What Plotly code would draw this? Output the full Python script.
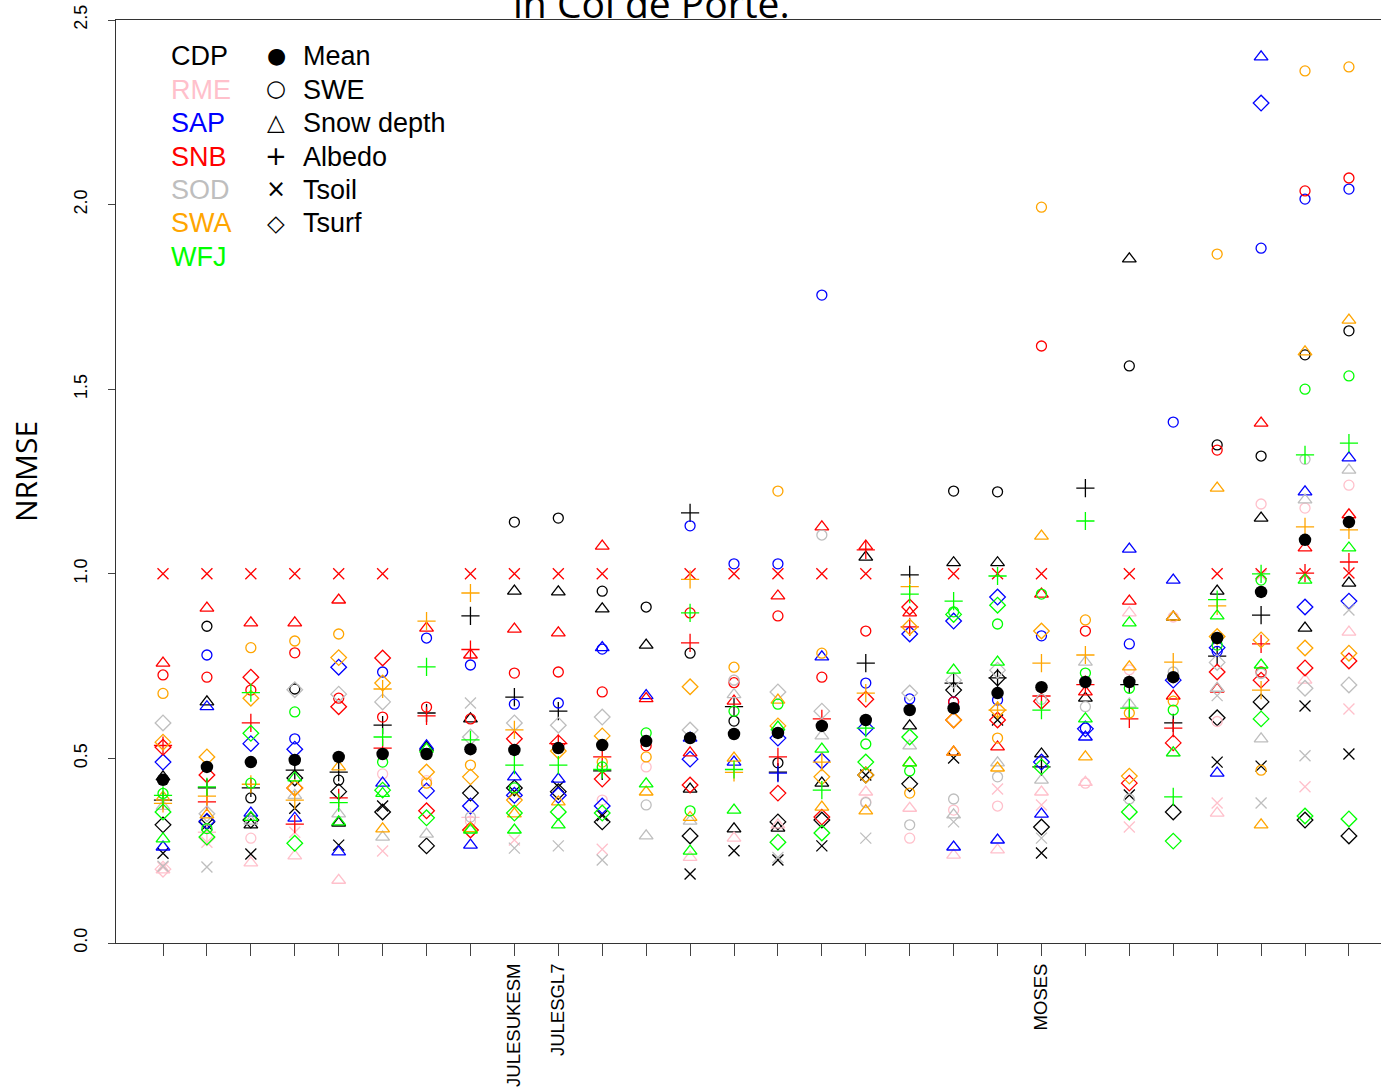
import plotly.graph_objects as go

N = None

# Model positions along the x axis (28 models); only three carry a label
MODEL_POS = list(range(1, 29))
MODEL_LABELS = ["", "", "", "", "", "", "", "", "JULESUKESM", "JULESGL7",
                "", "", "", "", "", "", "", "", "", "", "MOSES",
                "", "", "", "", "", "", ""]

# Multi-variable mean NRMSE per model
MEAN = [0.442, 0.477, 0.49, 0.496, 0.504, 0.512, 0.512, 0.525, 0.523, 0.528,
        0.536, 0.547, 0.555, 0.566, 0.569, 0.588, 0.604, 0.631, 0.636, 0.677,
        0.693, 0.707, 0.707, 0.72, 0.826, 0.951, 1.092, 1.14]

# ---- CDP ----
CDP_SWE = [N, 0.858, 0.393, 0.688, 0.441, N, N, N, 1.14, 1.151, 0.953, 0.91, 0.785, 0.601,
           0.488, N, N, N, 1.224, 1.222, N, N, 1.563, N, 1.349, 1.319, 1.593, 1.658]
CDP_DEPTH = [0.45, 0.653, 0.32, N, 0.325, N, 0.53, 0.607, 0.953, 0.951, 0.905, 0.807, 0.417,
             0.309, 0.311, 0.433, 1.045, 0.588, 1.03, 1.03, 0.512, 0.663, 1.853, 0.883, 0.953,
             1.151, 0.853, 0.975]
CDP_ALBEDO = [0.387, 0.42, 0.42, 0.468, 0.463, 0.59, 0.623, 0.886, 0.666, 0.628, 0.466, N,
              1.165, 0.64, 0.463, N, 0.758, 0.997, 0.704, 0.718, 0.477, 1.232, 0.70, 0.596,
              0.777, 0.888, N, N]
CDP_TSOIL = [0.243, 0.32, 0.241, 0.365, 0.265, 0.371, N, N, 0.41, 0.423, 0.345, N, 0.187, 0.25,
             0.225, 0.263, 0.455, N, 0.501, 0.604, 0.244, N, 0.401, N, 0.49, 0.479, 0.642, 0.512]
CDP_TSURF = [0.32, 0.328, 0.333, 0.447, 0.41, 0.355, 0.263, 0.406, 0.42, 0.41, 0.328, N, 0.29,
             N, 0.328, 0.333, 0.455, 0.431, 0.685, 0.718, 0.314, N, N, 0.355, 0.61, 0.653,
             0.333, 0.29]

# ---- RME ----
RME_SWE = [N, N, 0.284, N, N, 0.458, 0.44, 0.33, N, N, 0.387, 0.477, N, 0.712, N, N, 0.382,
           0.284, 0.36, 0.371, N, 0.433, 0.74, 0.883, 0.60, 1.189, 1.178, 1.24]
RME_DEPTH = [0.198, N, 0.217, 0.236, 0.17, N, N, N, N, N, N, N, 0.232, 0.284, 0.32, N, 0.409,
             0.365, 0.238, 0.252, 0.409, 0.435, 0.894, N, 0.352, N, 0.712, 0.842]
RME_ALBEDO = [N, 0.30, N, N, N, N, N, 0.34, N, N, N, N, N, N, N, N, N, N, N, N, N, N, N, N, N,
              N, N, N]
RME_TSOIL = [0.205, 0.273, N, 0.30, N, 0.249, N, N, 0.279, N, 0.254, N, N, N, N, N, N, N, N,
             0.417, 0.374, N, 0.314, N, 0.379, 0.995, 0.423, 0.634]
RME_TSURF = [0.2, 0.285, N, N, N, N, N, N, N, N, N, N, N, N, N, N, N, N, N, N, N, N, N, N, N,
             N, N, N]

# ---- SAP ----
SAP_SWE = [N, 0.78, N, 0.553, N, 0.734, 0.826, 0.753, 0.647, 0.65, 0.796, N, 1.13, 1.027,
           1.027, 1.755, 0.704, 0.661, 0.653, 0.658, 0.832, 0.582, 0.81, 1.411, 0.79, 1.882,
           2.015, 2.042]
SAP_DEPTH = [0.26, 0.64, 0.352, 0.338, 0.247, 0.433, 0.534, 0.265, 0.45, 0.444, 0.80, 0.67,
             0.555, 0.49, N, 0.775, N, N, 0.26, 0.279, 0.349, 0.558, 1.067, 0.983, 0.46, 2.40,
             1.222, 1.314]
SAP_ALBEDO = [N, N, N, N, N, N, N, N, N, N, N, N, N, N, 0.46, N, N, N, N, N, N, N, N, N, N, N,
              N, N]
SAP_TSOIL = [N] * 28
SAP_TSURF = [0.49, 0.33, 0.54, 0.525, 0.747, N, 0.412, 0.371, 0.40, 0.40, 0.371, N, 0.498, N,
             0.555, 0.493, 0.582, 0.837, 0.872, 0.937, 0.49, 0.58, N, 0.712, 0.80, 2.275, 0.91,
             0.926]

# ---- SNB ----
SNB_SWE = [0.726, 0.72, 0.685, 0.786, 0.663, 0.612, 0.639, 0.607, 0.731, 0.734, 0.68, 0.534,
           0.894, 0.705, 0.886, 0.72, 0.845, N, 0.653, N, 1.617, 0.845, N, N, 1.335, 0.734,
           2.037, 2.072]
SNB_DEPTH = [0.758, 0.907, 0.867, 0.867, 0.929, N, 0.853, 0.78, 0.85, 0.84, 1.075, 0.662,
             0.515, 0.655, 0.94, 1.127, 1.075, 0.894, 0.517, 0.531, 0.945, 0.68, 0.926, 0.669,
             0.688, 1.408, 1.07, 1.16]
SNB_ALBEDO = [0.535, 0.382, 0.596, 0.322, 0.393, 0.528, 0.615, 0.795, N, 0.54, 0.504, N, 0.813,
              N, 0.504, 0.607, 1.065, 0.856, N, N, 0.669, 0.70, 0.607, 0.582, N, 0.81, 1.002,
              1.032]
SNB_TSOIL = [1.0, 1.0, 1.0, 1.0, 1.0, 1.0, N, 1.0, 1.0, 1.0, 1.0, N, 1.0, 1.0, 1.0, 1.0, 1.0,
             N, 1.0, 1.0, 1.0, N, 1.0, N, 1.0, 1.0, 1.0, 1.002]
SNB_TSURF = [0.53, 0.455, 0.72, 0.42, 0.64, 0.772, 0.358, 0.306, 0.553, 0.542, 0.444, N, 0.428,
             N, 0.406, 0.341, 0.66, 0.91, 0.604, 0.604, 0.655, N, 0.433, 0.542, 0.734, 0.712,
             0.745, 0.764]

# ---- SOD ----
SOD_SWE = [N, N, N, N, N, N, N, 0.341, N, N, N, 0.374, N, 0.712, N, 1.105, 0.38, 0.32, 0.39,
           0.45, 0.66, 0.64, 0.39, 0.734, N, 0.73, 1.31, N]
SOD_DEPTH = [0.37, N, 0.33, 0.40, 0.35, 0.287, 0.295, N, N, N, N, 0.29, 0.33, 0.673, N, 0.561,
             N, 0.534, 0.347, 0.488, 0.441, 0.761, 0.647, 0.515, 0.69, 0.553, 1.2, 1.281]
SOD_ALBEDO = [N] * 28
SOD_TSOIL = [0.208, 0.206, N, N, N, N, N, 0.65, 0.257, 0.263, 0.225, N, N, N, 0.232, N, 0.284,
             N, 0.328, N, 0.284, N, N, N, 0.67, 0.379, 0.507, 0.902]
SOD_TSURF = [0.596, 0.35, N, 0.686, 0.674, 0.653, N, 0.558, 0.596, 0.59, 0.612, N, 0.577, N,
             0.68, 0.628, N, 0.677, 0.712, 0.739, N, N, N, N, 0.76, N, 0.69, 0.699]

# ---- SWA ----
SWA_SWE = [0.676, N, 0.80, 0.818, 0.837, N, 0.433, 0.482, N, N, 0.49, 0.504, N, 0.747, 1.224,
           0.785, N, 0.406, N, 0.555, 1.993, 0.875, 0.623, 0.655, 1.866, 0.468, 2.362, 2.373]
SWA_DEPTH = [0.395, 0.347, N, N, 0.477, 0.309, N, 0.31, 0.35, 0.382, N, 0.409, 0.34, 0.501,
             0.658, 0.368, 0.358, 0.488, 0.517, 0.474, 1.102, 0.504, 0.748, 0.883, 1.232, 0.32,
             1.601, 1.687]
SWA_ALBEDO = [0.378, 0.398, 0.43, 0.387, N, 0.688, 0.872, 0.948, 0.577, N, N, N, 0.985, 0.462,
              N, 0.49, 0.677, 0.965, N, 0.631, 0.758, 0.78, N, 0.761, 0.913, 0.685, 1.127, 1.119]
SWA_TSOIL = [N] * 28
SWA_TSURF = [0.544, 0.504, 0.663, 0.42, 0.773, 0.704, 0.463, 0.45, 0.387, 0.52, 0.561, N,
             0.694, N, 0.588, 0.45, 0.455, 0.856, 0.604, 0.631, 0.845, N, 0.452, N, 0.83, 0.821,
             0.799, 0.785]

# ---- WFJ ----
WFJ_SWE = [0.405, 0.31, 0.433, 0.626, N, 0.49, N, N, 0.42, N, 0.477, 0.569, 0.358, 0.628,
           0.647, N, 0.539, 0.466, 0.897, 0.864, 0.945, 0.731, 0.69, 0.631, 0.807, 0.983, 1.5,
           1.536]
WFJ_DEPTH = [0.282, N, 0.34, 0.447, 0.328, 0.405, 0.525, 0.306, 0.306, 0.32, N, 0.431, 0.249,
             0.36, 0.585, 0.525, N, 0.488, 0.739, 0.761, N, 0.607, 0.867, 0.515, 0.886, 0.753,
             0.983, 1.07]
WFJ_ALBEDO = [0.40, 0.423, 0.678, N, 0.38, 0.558, 0.748, 0.55, 0.482, 0.482, 0.47, N, 0.894,
              0.47, N, 0.414, 0.582, 0.945, 0.926, 0.994, 0.631, 1.143, 0.636, 0.396, 0.93, 1.0,
              1.322, 1.354]
WFJ_TSOIL = [N] * 28
WFJ_TSURF = [0.355, 0.287, 0.568, 0.27, N, 0.414, 0.339, N, 0.352, 0.355, 0.352, N, N, N,
             0.273, 0.298, 0.49, 0.558, 0.89, 0.915, 0.477, N, 0.355, 0.276, N, 0.607, 0.344,
             0.336]

SITES = ["CDP", "RME", "SAP", "SNB", "SOD", "SWA", "WFJ"]
SITE_COLORS = ["#000000", "#FFC0CB", "#0000FF", "#FF0000", "#BEBEBE", "#FFA500", "#00FF00"]
VARIABLES = ["SWE", "Snow depth", "Albedo", "Tsoil", "Tsurf"]
VAR_SYMBOLS = ["circle-open", "triangle-up-open", "cross-thin-open", "x-thin-open", "diamond-open"]
VAR_SIZES = [10, 12, 13, 11, 12]

site_series = {
    "CDP": [CDP_SWE, CDP_DEPTH, CDP_ALBEDO, CDP_TSOIL, CDP_TSURF],
    "RME": [RME_SWE, RME_DEPTH, RME_ALBEDO, RME_TSOIL, RME_TSURF],
    "SAP": [SAP_SWE, SAP_DEPTH, SAP_ALBEDO, SAP_TSOIL, SAP_TSURF],
    "SNB": [SNB_SWE, SNB_DEPTH, SNB_ALBEDO, SNB_TSOIL, SNB_TSURF],
    "SOD": [SOD_SWE, SOD_DEPTH, SOD_ALBEDO, SOD_TSOIL, SOD_TSURF],
    "SWA": [SWA_SWE, SWA_DEPTH, SWA_ALBEDO, SWA_TSOIL, SWA_TSURF],
    "WFJ": [WFJ_SWE, WFJ_DEPTH, WFJ_ALBEDO, WFJ_TSOIL, WFJ_TSURF],
}

fig = go.Figure()

for site, color in zip(SITES, SITE_COLORS):
    for var, symbol, size, values in zip(VARIABLES, VAR_SYMBOLS, VAR_SIZES, site_series[site]):
        fig.add_trace(go.Scatter(
            x=MODEL_POS, y=values, mode="markers", name=f"{site} {var}",
            marker=dict(symbol=symbol, size=size, color=color,
                        line=dict(color=color, width=1.3)),
            showlegend=False, hoverinfo="skip",
        ))

fig.add_trace(go.Scatter(
    x=MODEL_POS, y=MEAN, mode="markers", name="Mean",
    marker=dict(symbol="circle", size=12.5, color="#000000"),
    showlegend=False,
))

W, H = 1381, 1091
L, R, T, B = 116, 0, 20, 148
plot_h = H - T - B


def py(pixel_y):
    # convert a pixel row of the page to paper coordinates
    return (H - B - pixel_y) / plot_h


def px(pixel_x):
    return (pixel_x - L) / (W - L - R)


annotations = []
# Site colour key
for i, (site, color) in enumerate(zip(SITES, SITE_COLORS)):
    annotations.append(dict(
        text=site, x=px(169), y=py(56 + 33.5 * i), xref="paper", yref="paper",
        xanchor="left", yanchor="middle", showarrow=False,
        font=dict(family="Liberation Sans, Arial", size=27, color=color)))

# Variable symbol key
KEY_GLYPHS = ["\u25CF", "\u25CB", "\u25B3", "+", "\u00D7", "\u25C7"]
KEY_SIZES = [22, 23, 23, 26, 24, 23]
KEY_NAMES = ["Mean"] + VARIABLES
for i, (glyph, gsize, name) in enumerate(zip(KEY_GLYPHS, KEY_SIZES, KEY_NAMES)):
    annotations.append(dict(
        text=glyph, x=px(276), y=py(55 + 33.5 * i), xref="paper", yref="paper",
        xanchor="center", yanchor="middle", showarrow=False,
        font=dict(family="DejaVu Sans", size=gsize, color="#000000")))
    annotations.append(dict(
        text=name, x=px(301), y=py(56 + 33.5 * i), xref="paper", yref="paper",
        xanchor="left", yanchor="middle", showarrow=False,
        font=dict(family="Liberation Sans, Arial", size=27, color="#000000")))

# Title line (its upper part falls above the page)
annotations.append(dict(
    text="in Col de Porte.", x=px(651), y=py(3), xref="paper", yref="paper",
    xanchor="center", yanchor="middle", showarrow=False,
    font=dict(family="Open Sans", size=39, color="#000000")))

# Y axis title
annotations.append(dict(
    text="NRMSE", x=px(25), y=py(472), xref="paper", yref="paper",
    xanchor="center", yanchor="middle", showarrow=False, textangle=-90,
    font=dict(family="Open Sans", size=30, color="#000000")))

fig.update_layout(
    width=W, height=H,
    margin=dict(l=L, r=R, t=T, b=B, pad=0),
    paper_bgcolor="white", plot_bgcolor="white",
    annotations=annotations,
    showlegend=False,
)

fig.update_xaxes(
    range=[-0.07, 28.73], tickmode="array", tickvals=MODEL_POS, ticktext=MODEL_LABELS,
    tickangle=-90, ticks="outside", ticklen=12, tickwidth=1, tickcolor="#444444",
    showline=True, linecolor="#333333", linewidth=1.3, mirror=True,
    showgrid=False, zeroline=False,
    tickfont=dict(family="Liberation Sans, Arial", size=18.5, color="#000000"),
)

fig.update_yaxes(
    range=[0, 2.5], tickmode="array", tickvals=[0, 0.5, 1.0, 1.5, 2.0, 2.5],
    ticktext=["0.0", "0.5", "1.0", "1.5", "2.0", "2.5"], tickangle=-90,
    ticks="outside", ticklen=7, tickwidth=1, tickcolor="#444444",
    showline=True, linecolor="#333333", linewidth=1.3,
    showgrid=False, zeroline=False, ticklabelstandoff=14,
    tickfont=dict(family="Liberation Sans, Arial", size=18, color="#000000"),
)

fig.write_html("out.html")
